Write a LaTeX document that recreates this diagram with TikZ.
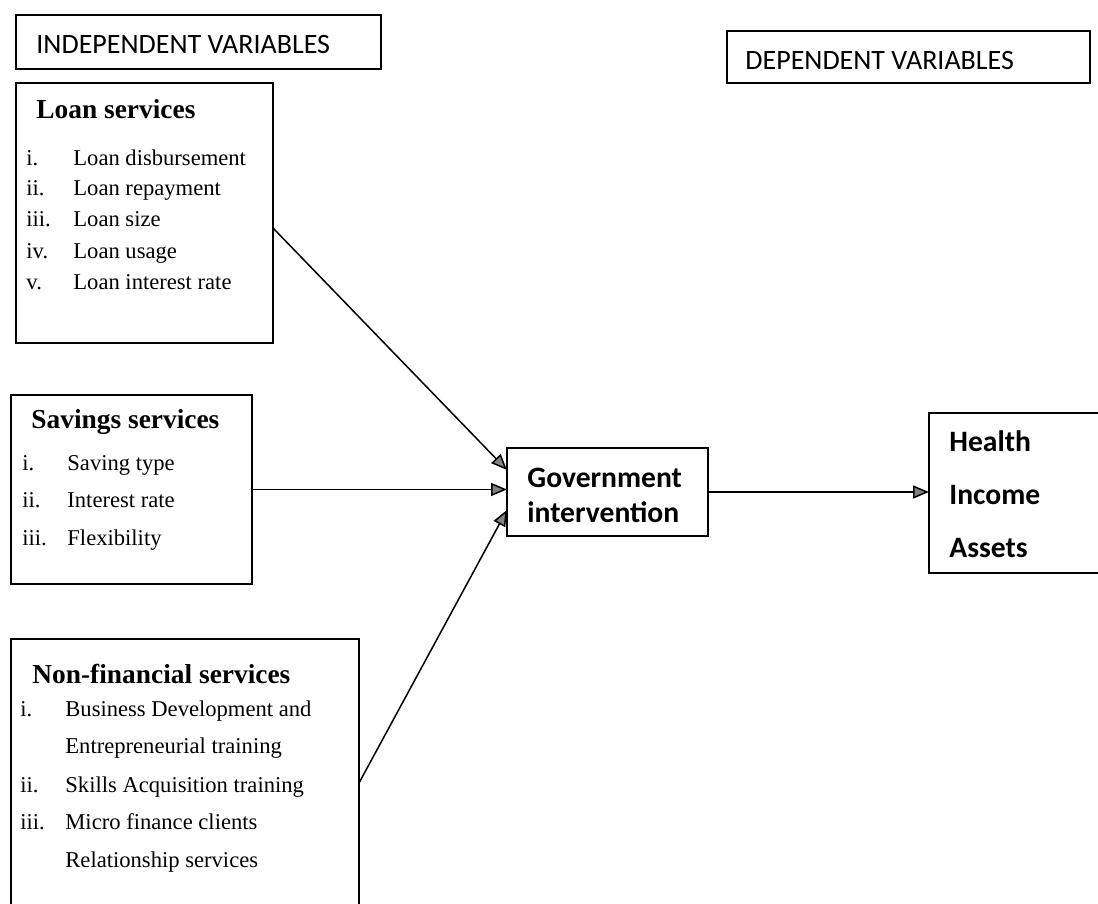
\documentclass[tikz,border=0pt]{standalone}
\usepackage{fontspec}
\setmainfont{Liberation Serif}
\newfontfamily\calibri{Carlito}
\usetikzlibrary{arrows.meta,fit}

\begin{document}
\begin{tikzpicture}[
    x=0.5pt, y=-0.5pt,
    box/.style={draw, rectangle, inner sep=0pt, outer sep=0pt, line width=0.8pt},
    head/.style={anchor=base west, inner sep=0pt, font=\fontsize{13.7}{16}\selectfont\bfseries},
    item/.style={anchor=base west, inner sep=0pt, font=\fontsize{11.3}{13}\selectfont},
    tag/.style={anchor=base west, inner sep=0pt, font=\calibri\fontsize{14}{17}\selectfont},
    result/.style={anchor=base west, inner sep=0pt, font=\calibri\fontsize{14.8}{18}\selectfont\bfseries},
    arrow/.style={-{Triangle[length=8pt, width=6.5pt, fill=gray]}, line width=0.75pt}
]
    \useasboundingbox (0,0) rectangle (1098,904);

    % Column headings
    \node[box, fit={(16,15) (381,69)}] (indep) {};
    \node[tag] (indeptxt) at (36,54) {INDEPENDENT VARIABLES};
    \node[box, fit={(727,31) (1090,83)}] (dep) {};
    \node[tag] (deptxt) at (745,70) {DEPENDENT VARIABLES};

    % Loan services
    \node[box, fit={(16,83) (273,343)}] (loan) {};
    \node[head] (loanhead) at (36,119) {Loan services};
    \node[item] (loannum1) at (26,165) {i.};
    \node[item] (loanitem1) at (73,165) {Loan disbursement};
    \node[item] (loannum2) at (26,196) {ii.};
    \node[item] (loanitem2) at (73,196) {Loan repayment};
    \node[item] (loannum3) at (26,227) {iii.};
    \node[item] (loanitem3) at (73,227) {Loan size};
    \node[item] (loannum4) at (26,258) {iv.};
    \node[item] (loanitem4) at (73,258) {Loan usage};
    \node[item] (loannum5) at (26,289) {v.};
    \node[item] (loanitem5) at (73,289) {Loan interest rate};

    % Savings services
    \node[box, fit={(11,395) (252,584)}] (saving) {};
    \node[head] (savehead) at (31,428) {Savings services};
    \node[item] (savenum1) at (22,470) {i.};
    \node[item] (saveitem1) at (67,470) {Saving type};
    \node[item] (savenum2) at (22,507) {ii.};
    \node[item] (saveitem2) at (67,507) {Interest rate};
    \node[item] (savenum3) at (22,545) {iii.};
    \node[item] (saveitem3) at (67,545) {Flexibility};

    % Non-financial services (runs past the lower edge)
    \node[box, fit={(11,639) (359,927)}] (nonfin) {};
    \node[head] (nonfinhead) at (32,683) {Non-financial services};
    \node[item] (nonfinnum1) at (20,716) {i.};
    \node[item] (nonfinitem1) at (65,716) {Business Development and};
    \node[item] (nonfinitem1b) at (65,753) {Entrepreneurial training};
    \node[item] (nonfinnum2) at (20,792) {ii.};
    \node[item] (nonfinitem2) at (65,792) {Skills Acquisition training};
    \node[item] (nonfinnum3) at (20,829) {iii.};
    \node[item] (nonfinitem3) at (65,829) {Micro finance clients};
    \node[item] (nonfinitem3b) at (65,867) {Relationship services};

    % Mediator and outcomes
    \node[box, fit={(507,448) (708,536)}] (gov) {};
    \node[result] (govtxt1) at (527,487) {Government};
    \node[result] (govtxt2) at (527,522) {intervention};
    \node[box, fit={(929,413) (1115,573)}] (outcome) {};
    \node[result] (health) at (949,451) {Health};
    \node[result] (income) at (949,504) {Income};
    \node[result] (assets) at (949,557) {Assets};

    % Connections
    \draw[arrow] ([yshift=-7.5pt]loan.east) -- ([yshift=11pt]gov.west);
    \draw[arrow] (saving.east) -- (saving.east -| gov.west);
    \draw[arrow] (nonfin.east) -- ([yshift=-9pt]gov.west);
    \draw[arrow] (gov.east) -- (gov.east -| outcome.west);
\end{tikzpicture}
\end{document}
